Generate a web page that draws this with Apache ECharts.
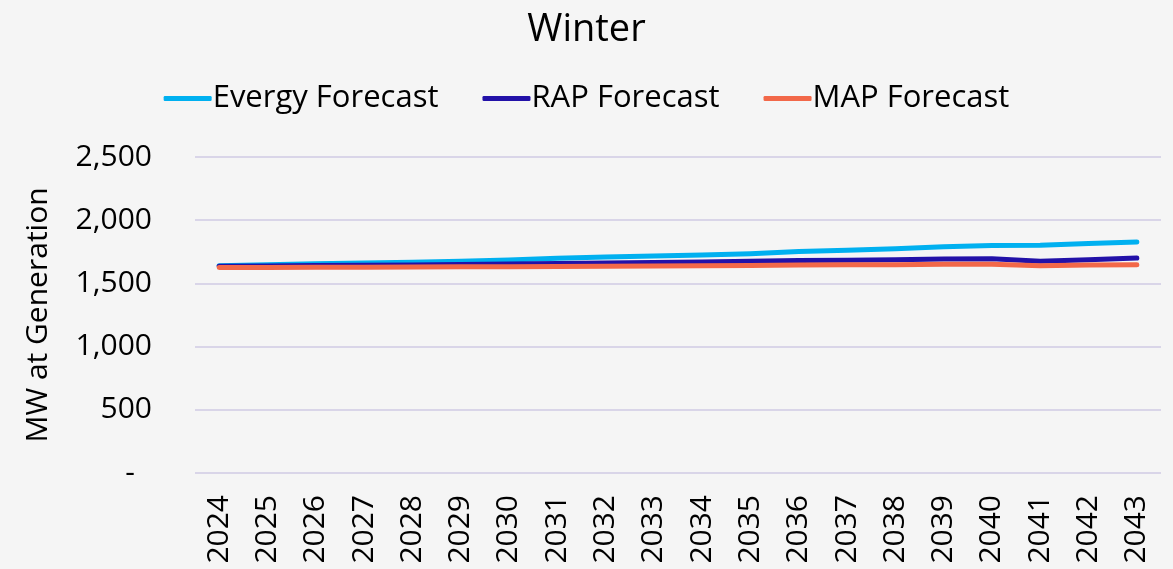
<!DOCTYPE html>
<html>
<head>
<meta charset="utf-8">
<script src="https://cdn.jsdelivr.net/npm/echarts@6/dist/echarts.min.js"></script>
<style>
  html, body { margin: 0; padding: 0; background: #f5f5f5; }
  #chart { width: 1173px; height: 569px; }
</style>
</head>
<body>
<div id="chart"></div>
<script>
// Winter peak forecasts, MW at generation
const years = ['2024','2025','2026','2027','2028','2029','2030','2031','2032','2033',
               '2034','2035','2036','2037','2038','2039','2040','2041','2042','2043'];
const evergyForecast = [1640, 1648, 1655, 1662, 1668, 1675, 1685, 1698, 1708, 1716,
                        1725, 1735, 1752, 1762, 1775, 1790, 1800, 1802, 1815, 1828];
const rapForecast    = [1635, 1638, 1641, 1643, 1646, 1650, 1654, 1658, 1662, 1665,
                        1670, 1675, 1682, 1684, 1688, 1694, 1695, 1675, 1688, 1700];
const mapForecast    = [1625, 1626, 1627, 1628, 1630, 1631, 1632, 1634, 1636, 1637,
                        1639, 1641, 1645, 1647, 1648, 1652, 1652, 1640, 1645, 1648];
const yTicks = { min: 0, max: 2500, interval: 500 };

const FONT = '"Open Sans", "Noto Sans", sans-serif';
const chart = echarts.init(document.getElementById('chart'), null, { renderer: 'canvas' });

function lineSeries(name, data, color) {
  return {
    name: name,
    type: 'line',
    data: data,
    showSymbol: false,
    symbol: 'none',
    lineStyle: { color: color, width: 5, cap: 'round', join: 'round' },
    itemStyle: { color: color },
    emphasis: { disabled: true },
    animation: false
  };
}

chart.setOption({
  backgroundColor: '#f5f5f5',
  animation: false,
  title: {
    text: 'Winter',
    left: 'center',
    top: 6,
    textStyle: { fontFamily: FONT, fontSize: 38, fontWeight: 'normal', color: '#000' }
  },
  legend: {
    top: 78,
    left: 'center',
    itemWidth: 48,
    itemHeight: 5,
    itemGap: 44,
    icon: 'roundRect',
    textStyle: { fontFamily: FONT, fontSize: 31, color: '#000', padding: [0, 0, 0, -4] },
    data: ['Evergy Forecast', 'RAP Forecast', 'MAP Forecast']
  },
  grid: { left: 195, right: 12, top: 157, bottom: 96, containLabel: false },
  xAxis: {
    type: 'category',
    data: years,
    boundaryGap: true,
    axisLine: { show: false },
    axisTick: { show: false },
    axisLabel: {
      rotate: 90,
      margin: 22,
      fontFamily: FONT,
      fontSize: 30,
      color: '#000',
      interval: 0
    }
  },
  yAxis: {
    type: 'value',
    min: yTicks.min,
    max: yTicks.max,
    interval: yTicks.interval,
    name: 'MW at Generation',
    nameLocation: 'middle',
    nameGap: 142,
    nameTextStyle: { fontFamily: FONT, fontSize: 30, color: '#000' },
    axisLine: { show: false },
    axisTick: { show: false },
    splitLine: { lineStyle: { color: '#d9d5e8', width: 2 } },
    axisLabel: {
      margin: 43,
      fontFamily: FONT,
      fontSize: 30,
      color: '#000',
      formatter: function (v) {
        return v === 0 ? '{dash|-}' : v.toLocaleString('en-US');
      },
      rich: {
        dash: { fontFamily: FONT, fontSize: 30, color: '#000', padding: [0, 17, 0, 0] }
      }
    }
  },
  series: [
    lineSeries('Evergy Forecast', evergyForecast, '#00b0f0'),
    lineSeries('RAP Forecast', rapForecast, '#2211a8'),
    lineSeries('MAP Forecast', mapForecast, '#f26849')
  ]
});
</script>
</body>
</html>
